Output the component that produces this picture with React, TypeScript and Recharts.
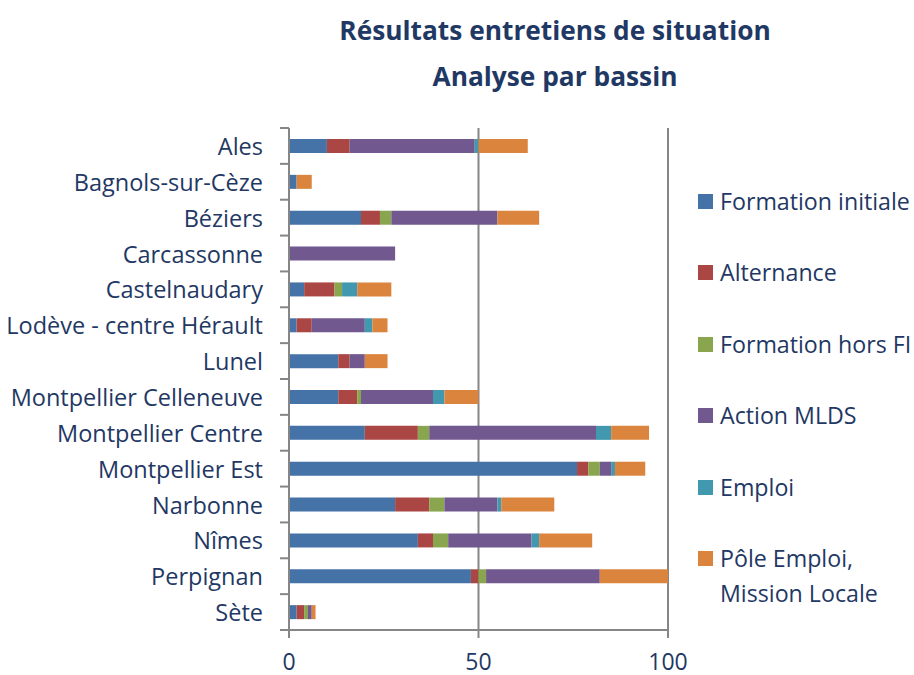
import React from 'react';
import { BarChart, Bar, XAxis, YAxis, CartesianGrid } from 'recharts';

const bassins = [
  'Ales', 'Bagnols-sur-Cèze', 'Béziers', 'Carcassonne', 'Castelnaudary',
  'Lodève - centre Hérault', 'Lunel', 'Montpellier Celleneuve', 'Montpellier Centre',
  'Montpellier Est', 'Narbonne', 'Nîmes', 'Perpignan', 'Sète',
];

const formationInitiale = [10, 2, 19, 0, 4, 2, 13, 13, 20, 76, 28, 34, 48, 2];
const alternance = [6, 0, 5, 0, 8, 4, 3, 5, 14, 3, 9, 4, 2, 2];
const formationHorsFI = [0, 0, 3, 0, 2, 0, 0, 1, 3, 3, 4, 4, 2, 1];
const actionMLDS = [33, 0, 28, 28, 0, 14, 4, 19, 44, 3, 14, 22, 30, 1];
const emploi = [1, 0, 0, 0, 4, 2, 0, 3, 4, 1, 1, 2, 0, 0];
const poleEmploi = [13, 4, 11, 0, 9, 4, 6, 9, 10, 8, 14, 14, 18, 1];

const xTicks = [0, 50, 100];

const series = [
  { key: 'fi', name: 'Formation initiale', color: '#4572A7', values: formationInitiale },
  { key: 'alt', name: 'Alternance', color: '#AA4643', values: alternance },
  { key: 'hfi', name: 'Formation hors FI', color: '#89A54E', values: formationHorsFI },
  { key: 'mlds', name: 'Action MLDS', color: '#71588F', values: actionMLDS },
  { key: 'emp', name: 'Emploi', color: '#4198AF', values: emploi },
  { key: 'pe', name: 'Pôle Emploi,\nMission Locale', color: '#DB843D', values: poleEmploi },
];

const data = bassins.map((b, i) => {
  const row: any = { bassin: b };
  series.forEach((s) => { row[s.key] = s.values[i]; });
  return row;
});

const TEXT = '#1F3864';
const AXIS = '#868686';
const FONT = '"Open Sans", sans-serif';

const W = 914;
const H = 675;
const M = { top: 128, right: 246, bottom: 0, left: 0 };
const Y_W = 289;
const X_H = 45;
const band = (H - M.top - X_H) / bassins.length;

// category label plus the boundary tick marks Excel puts between categories
const CategoryTick = (props: any) => {
  const { y, payload, index } = props;
  const ax = Y_W;
  return (
    <g>
      <line x1={ax - 9} x2={ax} y1={y - band / 2} y2={y - band / 2} stroke={AXIS} strokeWidth={2} />
      {index === bassins.length - 1 && (
        <line x1={ax - 9} x2={ax} y1={y + band / 2} y2={y + band / 2} stroke={AXIS} strokeWidth={2} />
      )}
      <text x={263} y={y} textAnchor="end" dominantBaseline="central" fill={TEXT} fontSize={23.5} fontFamily={FONT}>
        {payload.value}
      </text>
    </g>
  );
};

const LegendList = () => (
  <div style={{ position: 'absolute', left: 698, top: 184, width: 216, fontFamily: FONT, fontSize: 23.2, color: TEXT }}>
    {series.map((s) => (
      <div key={s.key} style={{ display: 'flex', alignItems: 'flex-start', height: 71.4 }}>
        <span style={{ width: 15, height: 15, background: s.color, marginTop: 10, marginRight: 7, flex: 'none' }} />
        <span style={{ whiteSpace: 'pre', lineHeight: '35px' }}>{s.name}</span>
      </div>
    ))}
  </div>
);

export default function App() {
  return (
    <div style={{ position: 'absolute', left: 0, top: 0, width: W, height: H, background: '#fff' }}>
      <div style={{ position: 'absolute', left: 300, width: 510, top: 7, textAlign: 'center', fontFamily: FONT, fontWeight: 700, fontSize: 26.3, color: TEXT, lineHeight: '46px' }}>
        <div>Résultats entretiens de situation</div>
        <div>Analyse par bassin</div>
      </div>
      <BarChart width={W} height={H} data={data} layout="vertical" margin={M} barSize={14}>
        <CartesianGrid horizontal={false} stroke={AXIS} strokeWidth={2} />
        <XAxis
          type="number"
          domain={[0, 100]}
          ticks={xTicks}
          height={X_H}
          stroke={AXIS}
          strokeWidth={2}
          tickSize={8}
          tick={{ fill: TEXT, fontSize: 23, fontFamily: FONT, dy: 14 }}
        />
        <YAxis
          type="category"
          dataKey="bassin"
          width={Y_W}
          stroke={AXIS}
          strokeWidth={2}
          tickLine={false}
          interval={0}
          tick={<CategoryTick />}
        />
        {series.map((s) => (
          <Bar key={s.key} dataKey={s.key} name={s.name} stackId="a" fill={s.color} isAnimationActive={false} />
        ))}
      </BarChart>
      <LegendList />
    </div>
  );
}
